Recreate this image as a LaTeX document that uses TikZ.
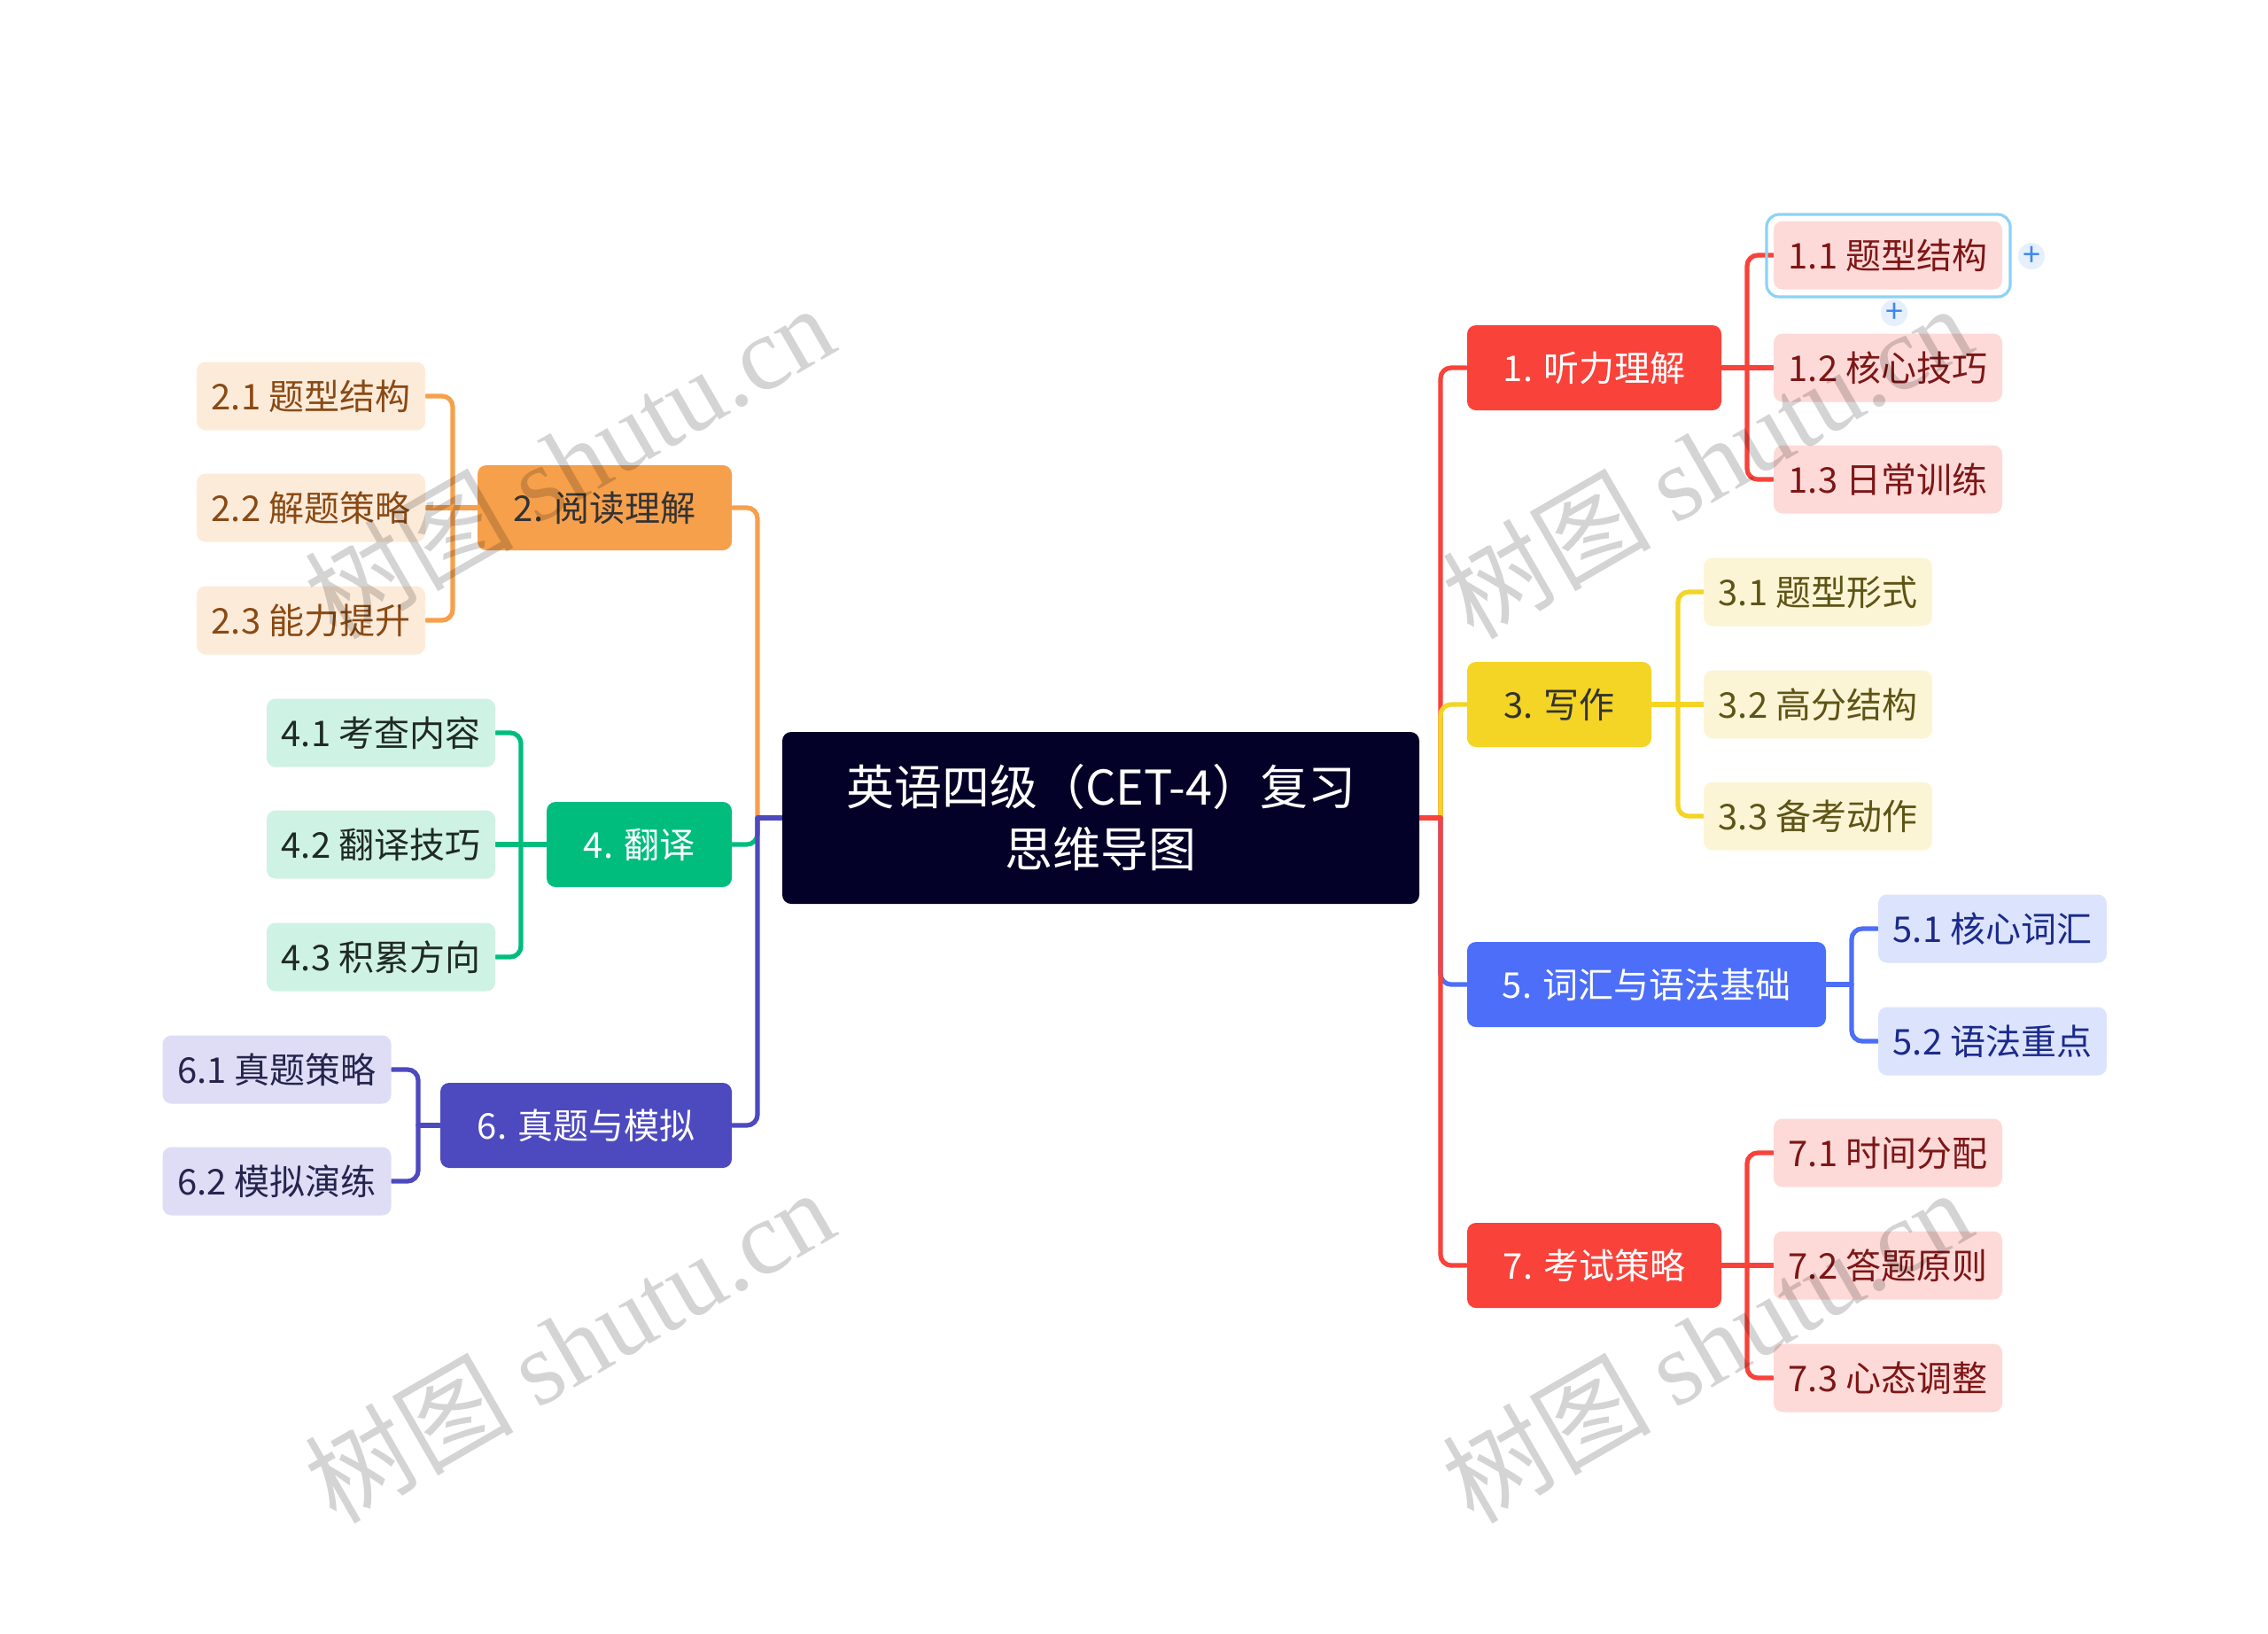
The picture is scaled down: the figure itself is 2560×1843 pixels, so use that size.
\documentclass[tikz,border=0pt]{standalone}
\usepackage{fontspec}
\setmainfont{Noto Sans CJK SC}
\newfontfamily\wmserif{Liberation Serif}
\usetikzlibrary{backgrounds}
\definecolor{cRed}{HTML}{F9423A}
\definecolor{cRedL}{HTML}{FDDAD8}
\definecolor{cRedT}{HTML}{7D1616}
\definecolor{cOr}{HTML}{F6A04C}
\definecolor{cOrL}{HTML}{FDEBDA}
\definecolor{cOrT}{HTML}{8A4A14}
\definecolor{cYe}{HTML}{F4D424}
\definecolor{cYeL}{HTML}{FCF5D5}
\definecolor{cYeT}{HTML}{5E5416}
\definecolor{cGr}{HTML}{00BD7E}
\definecolor{cGrL}{HTML}{CEF2E3}
\definecolor{cGrT}{HTML}{1F2A24}
\definecolor{cBl}{HTML}{4C6EF8}
\definecolor{cBlL}{HTML}{DCE3FD}
\definecolor{cBlT}{HTML}{1B2A8A}
\definecolor{cPu}{HTML}{4D49BF}
\definecolor{cPuL}{HTML}{DEDDF5}
\definecolor{cPuT}{HTML}{25244E}
\definecolor{cRoot}{HTML}{030128}
\definecolor{cDark}{HTML}{333333}
\definecolor{cSel}{HTML}{8DD2F6}
\definecolor{cPlus}{HTML}{3F86EE}
\definecolor{cPlusBg}{HTML}{E6F0FD}
\tikzset{
  base/.style={rounded corners=2.5pt, inner sep=0pt, align=center, font=\fontsize{10pt}{12pt}\selectfont},
  mainbox/.style={base, minimum height=24pt},
  childbox/.style={base, minimum width=64.5pt, minimum height=19.25pt},
  link/.style={line width=1.3pt, rounded corners=3pt, line cap=round},
  wm/.style={rotate=30, text=black, text opacity=0.17, font=\fontsize{29.5pt}{29.5pt}\selectfont, inner sep=0pt},
  plusmark/.style={circle, fill=cPlusBg, minimum size=7pt, inner sep=0pt, text=cPlus, font=\fontsize{9pt}{9pt}\selectfont}
}
\begin{document}
\begin{tikzpicture}[x=0.25pt, y=-0.25pt]
\useasboundingbox (0,0) rectangle (2560,1843);

% root
\node[base, fill=cRoot, text=white, minimum width=179.75pt, minimum height=48.5pt, font=\fontsize{13.5pt}{17.5pt}\selectfont] (root) at (1242.5,923) {英语四级（CET-4）复习\\思维导图};

% main branches
\node[mainbox, fill=cRed, text=white, minimum width=71.75pt] (n1) at (1799.5,415) {1. 听力理解};
\node[mainbox, fill=cYe, text=cDark, minimum width=52pt] (n3) at (1760,795) {3. 写作};
\node[mainbox, fill=cBl, text=white, minimum width=101.25pt] (n5) at (1858.5,1111) {5. 词汇与语法基础};
\node[mainbox, fill=cRed, text=white, minimum width=71.75pt] (n7) at (1799.5,1428) {7. 考试策略};
\node[mainbox, fill=cOr, text=cDark, minimum width=71.75pt] (n2) at (682.5,573) {2. 阅读理解};
\node[mainbox, fill=cGr, text=white, minimum width=52.25pt] (n4) at (721.5,953) {4. 翻译};
\node[mainbox, fill=cPu, text=white, minimum width=82.25pt] (n6) at (661.5,1270) {6. 真题与模拟};

% children
\node[childbox, fill=cRedL, text=cRedT] (n11) at (2131,288) {1.1 题型结构};
\node[childbox, fill=cRedL, text=cRedT] (n12) at (2131,415) {1.2 核心技巧};
\node[childbox, fill=cRedL, text=cRedT] (n13) at (2131,541) {1.3 日常训练};
\node[childbox, fill=cYeL, text=cYeT] (n31) at (2052,668) {3.1 题型形式};
\node[childbox, fill=cYeL, text=cYeT] (n32) at (2052,795) {3.2 高分结构};
\node[childbox, fill=cYeL, text=cYeT] (n33) at (2052,921) {3.3 备考动作};
\node[childbox, fill=cBlL, text=cBlT] (n51) at (2249,1048) {5.1 核心词汇};
\node[childbox, fill=cBlL, text=cBlT] (n52) at (2249,1175) {5.2 语法重点};
\node[childbox, fill=cRedL, text=cRedT] (n71) at (2131,1301) {7.1 时间分配};
\node[childbox, fill=cRedL, text=cRedT] (n72) at (2131,1428) {7.2 答题原则};
\node[childbox, fill=cRedL, text=cRedT] (n73) at (2131,1555) {7.3 心态调整};
\node[childbox, fill=cOrL, text=cOrT] (n21) at (351,447) {2.1 题型结构};
\node[childbox, fill=cOrL, text=cOrT] (n22) at (351,573) {2.2 解题策略};
\node[childbox, fill=cOrL, text=cOrT] (n23) at (351,700) {2.3 能力提升};
\node[childbox, fill=cGrL, text=cGrT] (n41) at (430,827) {4.1 考查内容};
\node[childbox, fill=cGrL, text=cGrT] (n42) at (430,953) {4.2 翻译技巧};
\node[childbox, fill=cGrL, text=cGrT] (n43) at (430,1080) {4.3 积累方向};
\node[childbox, fill=cPuL, text=cPuT] (n61) at (312.5,1207) {6.1 真题策略};
\node[childbox, fill=cPuL, text=cPuT] (n62) at (312.5,1333) {6.2 模拟演练};

% selection frame and plus marks
\node[draw=cSel, line width=0.8pt, rounded corners=3.5pt, minimum width=68.75pt, minimum height=23.25pt, inner sep=0pt] (sel) at (2131.5,288.5) {};
\node[plusmark] (p1) at (2293,289) {+};
\node[plusmark] (p2) at (2138,353) {+};

% connectors
\begin{scope}[on background layer]
\fill[white] (0,0) rectangle (2560,1843);
\coordinate (rt) at (1626,923);
\coordinate (lt) at (855,923);
\draw[link, cRed] (rt) |- (n1.west);
\draw[link, cYe] (rt) |- (n3.west);
\draw[link, cBl] (rt) |- (n5.west);
\draw[link, cRed] (rt) |- (n7.west);
\draw[link, cRed] (root.east) -- (rt);
\draw[link, cOr] (lt) |- (n2.east);
\draw[link, cGr] (lt) |- (n4.east);
\draw[link, cPu] (lt) |- (n6.east);
\draw[link, cPu] (root.west) -- (lt);

\coordinate (v1) at (1972,415);
\draw[link, cRed] (n1.east) -- (n12.west);
\draw[link, cRed] (v1) |- (n11.west);
\draw[link, cRed] (v1) |- (n13.west);
\coordinate (v3) at (1894,795);
\draw[link, cYe] (n3.east) -- (n32.west);
\draw[link, cYe] (v3) |- (n31.west);
\draw[link, cYe] (v3) |- (n33.west);
\coordinate (v5) at (2090,1111);
\draw[link, cBl] (n5.east) -- (v5);
\draw[link, cBl] (v5) |- (n51.west);
\draw[link, cBl] (v5) |- (n52.west);
\coordinate (v7) at (1972,1428);
\draw[link, cRed] (n7.east) -- (n72.west);
\draw[link, cRed] (v7) |- (n71.west);
\draw[link, cRed] (v7) |- (n73.west);
\coordinate (v2) at (511,573);
\draw[link, cOr] (n2.west) -- (n22.east);
\draw[link, cOr] (v2) |- (n21.east);
\draw[link, cOr] (v2) |- (n23.east);
\coordinate (v4) at (588,953);
\draw[link, cGr] (n4.west) -- (n42.east);
\draw[link, cGr] (v4) |- (n41.east);
\draw[link, cGr] (v4) |- (n43.east);
\coordinate (v6) at (472,1270);
\draw[link, cPu] (n6.west) -- (v6);
\draw[link, cPu] (v6) |- (n61.east);
\draw[link, cPu] (v6) |- (n62.east);
\end{scope}

% watermarks
\node[wm] (w1) at (642,520) {树图 {\wmserif shutu.cn}};
\node[wm] (w2) at (1926,520) {树图 {\wmserif shutu.cn}};
\node[wm] (w3) at (642,1518) {树图 {\wmserif shutu.cn}};
\node[wm] (w4) at (1926,1518) {树图 {\wmserif shutu.cn}};
\end{tikzpicture}
\end{document}
